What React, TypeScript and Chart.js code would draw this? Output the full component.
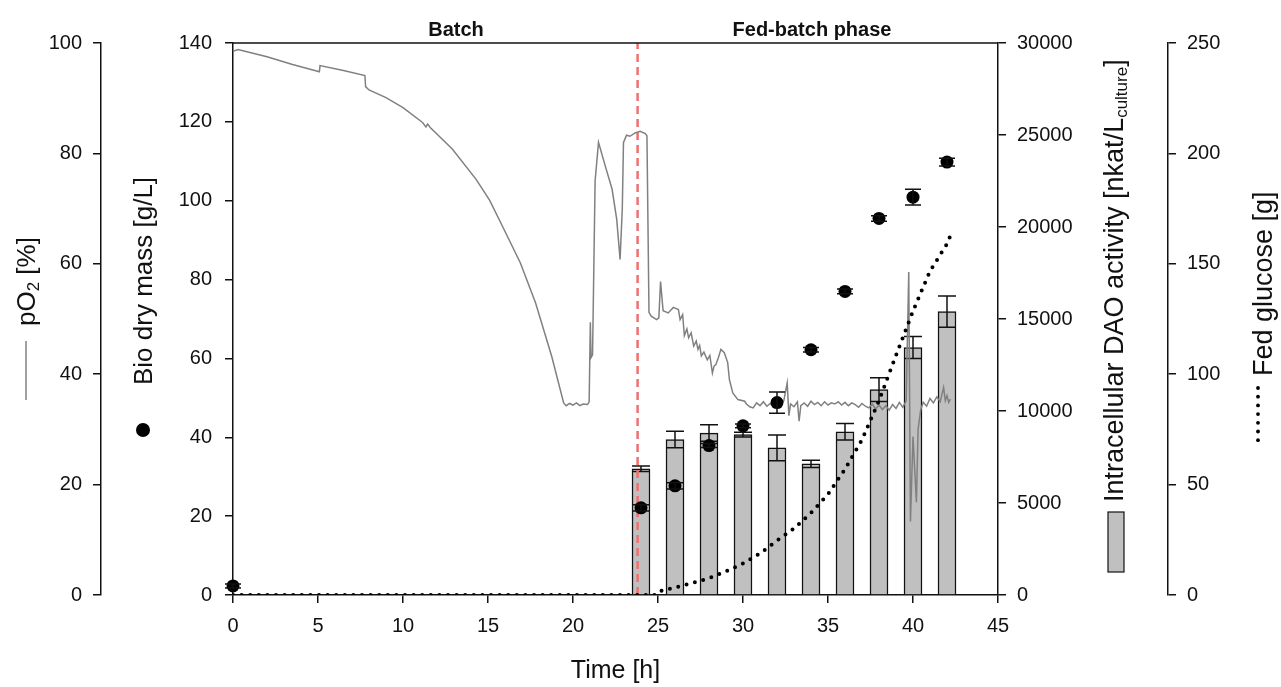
import React, { useEffect, useRef } from 'react';
import { Chart, registerables } from 'chart.js';
Chart.register(...registerables);

const FONT = "'Liberation Sans', Arial, Helvetica, sans-serif";

// ---- data ----
const sampleTimes = [0, 24, 26, 28, 30, 32, 34, 36, 38, 40, 42];
const bioDryMass = [2.3, 22.1, 27.7, 37.9, 42.9, 48.8, 62.2, 77.0, 95.5, 100.9, 109.8];
const bioDryMassErr = [0.5, 0.8, 0.8, 0.5, 0.5, 2.7, 0.6, 0.6, 0.7, 2.0, 1.0];

const daoTimes = [24, 26, 28, 30, 32, 34, 36, 38, 40, 42];
const daoActivity = [6860, 8450, 8800, 8720, 8000, 7130, 8870, 11160, 13450, 15400];
const daoErr = [150, 450, 450, 130, 700, 200, 450, 650, 600, 850];

const fedGlucose: [number, number][] = [
  [0, 0], [24.8, 0], [25.0, 1.5], [26, 3.4], [27, 5.4], [28, 7.6], [29, 10.7], [30, 14.3],
  [31, 18.8], [32, 24.6], [33, 30.1], [34, 37.2], [35, 45.6], [36, 57.0], [37, 70.3],
  [38, 88.0], [39, 108.5], [40, 128.6], [41, 146.7], [42, 159.0], [42.3, 164.7],
];

const pO2Trace: [number, number][] = [
  [0, 98.5], [0.3, 98.8], [0.7, 98.5], [2.0, 97.5], [3.5, 96.1], [5.08, 94.8], [5.12, 95.9],
  [6.5, 95.0], [7.76, 94.1], [7.8, 92.1], [8.0, 91.5], [9.0, 90.1], [10.0, 88.3], [11.15, 85.6],
  [11.35, 84.8], [11.45, 85.3], [11.6, 84.7], [12.9, 80.8], [14.3, 75.3], [15.1, 71.5],
  [15.85, 66.8], [16.9, 60.2], [17.8, 52.9], [18.75, 43.2], [19.45, 34.8], [19.6, 34.3],
  [19.8, 34.7], [20.0, 34.4], [20.2, 34.8], [20.4, 34.3], [20.6, 34.6], [20.85, 34.5],
  [20.95, 35.0], [21.02, 49.4], [21.06, 43.0], [21.15, 43.5], [21.3, 75.0], [21.5, 82.0],
  [21.9, 77.7], [22.3, 73.5], [22.57, 68.1], [22.77, 60.8], [22.9, 70.0], [22.97, 82.0],
  [23.15, 83.3], [23.35, 83.1], [23.65, 83.7], [23.95, 84.0], [24.25, 83.6], [24.35, 83.2],
  [24.47, 51.2], [24.6, 50.5], [24.92, 49.9], [25.05, 50.2], [25.15, 56.8], [25.3, 51.5],
  [25.6, 51.1], [25.9, 52.1], [26.2, 51.7], [26.3, 49.9], [26.45, 50.8], [26.55, 47.0],
  [26.7, 48.2], [26.8, 46.6], [26.95, 47.5], [27.1, 45.1], [27.25, 46.0], [27.35, 44.5],
  [27.45, 45.2], [27.55, 43.3], [27.7, 44.0], [27.9, 42.6], [28.05, 43.4], [28.2, 40.2],
  [28.3, 41.5], [28.4, 41.7], [28.55, 43.0], [28.7, 44.5], [28.9, 43.9], [29.1, 42.1],
  [29.2, 39.0], [29.4, 36.6], [29.7, 35.4], [30.1, 35.1],
  [30.2, 34.6], [30.4, 34.1], [30.6, 33.9], [30.8, 34.8], [31.0, 34.3], [31.2, 35.0],
  [31.4, 34.2], [31.6, 34.7], [31.8, 34.0], [32.0, 34.9], [32.2, 34.4], [32.4, 35.2],
  [32.6, 38.4], [32.7, 32.5], [32.8, 34.6], [33.0, 34.1], [33.2, 35.0], [33.3, 31.5],
  [33.4, 34.3], [33.6, 34.8], [33.8, 34.2], [34.0, 35.1], [34.2, 34.5], [34.4, 34.9],
  [34.6, 34.3], [34.8, 35.0], [35.0, 34.4], [35.2, 34.8], [35.4, 34.6], [35.6, 35.0],
  [35.8, 34.4], [36.0, 34.9], [36.2, 34.3], [36.4, 34.8], [36.6, 34.5], [36.8, 34.0],
  [37.0, 34.7], [37.2, 34.2], [37.4, 33.9], [37.6, 34.6], [37.8, 33.7], [38.0, 34.4],
  [38.2, 33.6], [38.4, 34.3], [38.6, 33.5], [38.8, 34.5], [39.0, 33.8], [39.2, 34.9],
  [39.4, 34.0], [39.6, 35.2], [39.75, 58.5], [39.85, 13.3], [40.0, 28.7], [40.2, 16.8],
  [40.3, 30.0], [40.45, 33.5], [40.6, 34.9], [40.8, 34.2], [41.0, 35.6], [41.2, 34.8],
  [41.4, 35.9], [41.6, 35.0], [41.8, 37.6], [41.9, 35.2], [42.0, 36.1], [42.1, 34.9],
  [42.2, 35.5],
];

const phaseSwitchTime = 23.8;
const phaseLabels = ['Batch', 'Fed-batch phase'];

// ---- plugins ----
const whiteBg = {
  id: 'whiteBg',
  beforeDraw(chart: any) {
    const ctx = chart.ctx;
    ctx.save();
    ctx.fillStyle = '#ffffff';
    ctx.fillRect(0, 0, chart.width, chart.height);
    ctx.restore();
  },
};

const errorBars = {
  id: 'errorBars',
  afterDatasetDraw(chart: any, args: any) {
    const ds = chart.data.datasets[args.index];
    if (!ds.errors) return;
    const ctx = chart.ctx;
    const xs = chart.scales.x;
    const ys = chart.scales[ds.yAxisID];
    ctx.save();
    ctx.strokeStyle = '#111';
    ctx.lineWidth = 1.5;
    ds.data.forEach((p: any, i: number) => {
      const e = ds.errors[i];
      const x = xs.getPixelForValue(p.x);
      const yt = ys.getPixelForValue(p.y + e);
      const yb = ys.getPixelForValue(p.y - e);
      const hw = ds.capHalf;
      ctx.beginPath();
      ctx.moveTo(x, yt); ctx.lineTo(x, yb);
      ctx.moveTo(x - hw, yt); ctx.lineTo(x + hw, yt);
      ctx.moveTo(x - hw, yb); ctx.lineTo(x + hw, yb);
      ctx.stroke();
    });
    ctx.restore();
  },
};

type Part = { text: string; size: number; dy?: number };
function drawRotated(ctx: CanvasRenderingContext2D, cx: number, yStart: number, parts: Part[]) {
  ctx.save();
  ctx.translate(cx, yStart);
  ctx.rotate(-Math.PI / 2);
  ctx.textBaseline = 'middle';
  ctx.textAlign = 'left';
  ctx.fillStyle = '#111';
  let x = 0;
  for (const p of parts) {
    ctx.font = `${p.size}px ${FONT}`;
    ctx.fillText(p.text, x, p.dy || 0);
    x += ctx.measureText(p.text).width;
  }
  ctx.restore();
}

const decorations = {
  id: 'decorations',
  afterDraw(chart: any) {
    const ctx: CanvasRenderingContext2D = chart.ctx;
    const a = chart.chartArea;
    ctx.save();
    // top frame
    ctx.strokeStyle = '#111';
    ctx.lineWidth = 1.5;
    ctx.beginPath();
    ctx.moveTo(a.left, a.top);
    ctx.lineTo(a.right, a.top);
    ctx.stroke();

    // phase labels
    ctx.fillStyle = '#111';
    ctx.font = `bold 20px ${FONT}`;
    ctx.textAlign = 'center';
    ctx.textBaseline = 'alphabetic';
    ctx.fillText(phaseLabels[0], 456, 36);
    ctx.fillText(phaseLabels[1], 812, 36);

    // x title
    ctx.font = `25px ${FONT}`;
    ctx.textBaseline = 'middle';
    ctx.fillText('Time [h]', (a.left + a.right) / 2, 671);

    // y titles
    drawRotated(ctx, 28, 326, [
      { text: 'pO', size: 26 },
      { text: '2', size: 17, dy: 6 },
      { text: ' [%]', size: 26 },
    ]);
    drawRotated(ctx, 145, 385, [{ text: 'Bio dry mass [g/L]', size: 26 }]);
    drawRotated(ctx, 1116, 502, [
      { text: 'Intracellular DAO activity [nkat/L', size: 27 },
      { text: 'culture', size: 17, dy: 6 },
      { text: ']', size: 27 },
    ]);
    drawRotated(ctx, 1265, 376, [{ text: 'Fed glucose [g]', size: 27 }]);

    // legend symbols
    ctx.strokeStyle = '#808080';
    ctx.lineWidth = 1.5;
    ctx.beginPath();
    ctx.moveTo(26, 341);
    ctx.lineTo(26, 400);
    ctx.stroke();

    ctx.fillStyle = '#000';
    ctx.beginPath();
    ctx.arc(143, 430, 7, 0, Math.PI * 2);
    ctx.fill();

    ctx.fillStyle = '#c0c0c0';
    ctx.fillRect(1108, 512, 16, 60);
    ctx.strokeStyle = '#111';
    ctx.lineWidth = 1.2;
    ctx.strokeRect(1108, 512, 16, 60);

    ctx.fillStyle = '#000';
    for (let i = 0; i < 7; i++) {
      ctx.beginPath();
      ctx.arc(1258, 388 + i * 8.7, 1.9, 0, Math.PI * 2);
      ctx.fill();
    }
    ctx.restore();
  },
};

function fixedWidth(w: number) {
  return (s: any) => { s.width = w; };
}

const tickFont = { family: FONT, size: 20 };
const axisCommon = (padding: number) => ({
  offset: false,
  ticks: { font: tickFont, color: '#111', padding, callback: (v: any) => String(v) },
  grid: { drawOnChartArea: false, offset: false, color: '#111', tickLength: 8, lineWidth: 1.5 },
  border: { color: '#111', width: 1.5 },
});

export default function App() {
  const ref = useRef<HTMLCanvasElement>(null);
  useEffect(() => {
    const canvas = ref.current!;
    const chart = new Chart(canvas, {
      type: 'line',
      data: {
        datasets: [
          {
            type: 'scatter',
            label: 'Bio dry mass',
            data: sampleTimes.map((t, i) => ({ x: t, y: bioDryMass[i] })),
            yAxisID: 'yBio',
            pointRadius: 6.5,
            pointHoverRadius: 6.5,
            backgroundColor: '#000',
            borderColor: '#000',
            borderWidth: 0,
            clip: false,
            order: 0,
            errors: bioDryMassErr,
            capHalf: 8,
          } as any,
          {
            type: 'line',
            label: 'Fed glucose',
            data: fedGlucose.map(([t, g]) => ({ x: t, y: g })),
            yAxisID: 'yGlu',
            borderColor: '#000',
            borderWidth: 4,
            borderDash: [0, 8.6],
            borderCapStyle: 'round',
            pointRadius: 0,
            tension: 0,
            fill: false,
            order: 1,
          } as any,
          {
            type: 'line',
            label: 'pO2',
            data: pO2Trace.map(([t, v]) => ({ x: t, y: v })),
            yAxisID: 'yPO2',
            borderColor: '#808080',
            borderWidth: 1.5,
            pointRadius: 0,
            tension: 0,
            fill: false,
            order: 2,
          } as any,
          {
            type: 'line',
            label: 'phase switch',
            data: [{ x: phaseSwitchTime, y: 0 }, { x: phaseSwitchTime, y: 100 }],
            yAxisID: 'yPO2',
            borderColor: '#f07070',
            borderWidth: 2.5,
            borderDash: [8, 5],
            pointRadius: 0,
            fill: false,
            order: 3,
          } as any,
          {
            type: 'bar',
            label: 'Intracellular DAO activity',
            data: daoTimes.map((t, i) => ({ x: t, y: daoActivity[i] })),
            yAxisID: 'yDAO',
            backgroundColor: '#c0c0c0',
            borderColor: '#111',
            borderWidth: 1.5,
            barThickness: 18,
            order: 4,
            errors: daoErr,
            capHalf: 9,
          } as any,
        ],
      },
      options: {
        responsive: false,
        animation: false,
        devicePixelRatio: 1,
        layout: { padding: { top: 43, left: 0, right: 0, bottom: 0 } },
        plugins: { legend: { display: false }, tooltip: { enabled: false } },
        events: [],
        scales: {
          x: {
            type: 'linear',
            position: 'bottom',
            min: 0,
            max: 45,
            ...axisCommon(11),
            ticks: { ...axisCommon(11).ticks, stepSize: 5 },
            afterFit: (s: any) => { s.height = 92; },
          },
          yBio: {
            type: 'linear',
            position: 'left',
            weight: 0,
            min: 0,
            max: 140,
            ...axisCommon(13),
            ticks: { ...axisCommon(13).ticks, stepSize: 20 },
            afterFit: fixedWidth(132),
          },
          yPO2: {
            type: 'linear',
            position: 'left',
            weight: 1,
            min: 0,
            max: 100,
            ...axisCommon(11),
            ticks: { ...axisCommon(11).ticks, stepSize: 20 },
            afterFit: fixedWidth(101),
          },
          yDAO: {
            type: 'linear',
            position: 'right',
            weight: 0,
            min: 0,
            max: 30000,
            ...axisCommon(11),
            ticks: { ...axisCommon(11).ticks, stepSize: 5000 },
            afterFit: fixedWidth(170),
          },
          yGlu: {
            type: 'linear',
            position: 'right',
            weight: 1,
            min: 0,
            max: 250,
            ...axisCommon(11),
            ticks: { ...axisCommon(11).ticks, stepSize: 50 },
            afterFit: fixedWidth(113),
          },
        },
      } as any,
      plugins: [whiteBg, errorBars, decorations],
    });
    return () => chart.destroy();
  }, []);
  return (
    <div style={{ position: 'fixed', left: 0, top: 0, width: 1281, height: 687, background: '#fff' }}>
      <canvas ref={ref} width={1281} height={687} style={{ display: 'block' }} />
    </div>
  );
}
